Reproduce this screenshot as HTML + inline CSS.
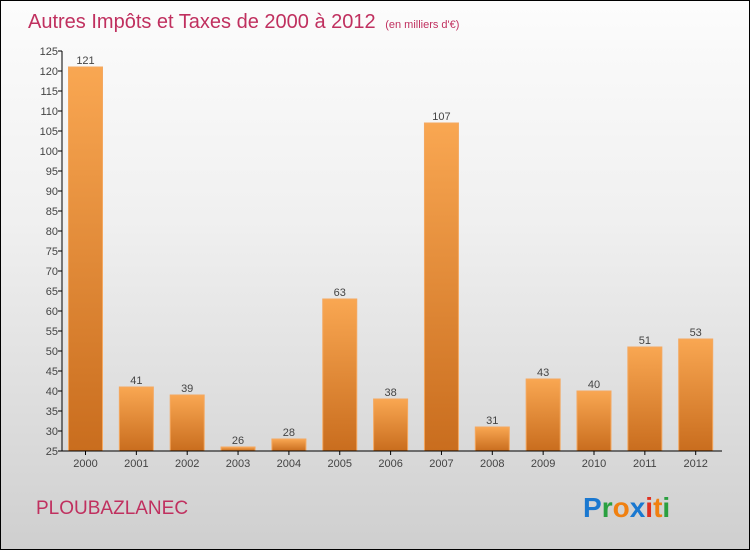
<!DOCTYPE html>
<html><head><meta charset="utf-8"><style>
body{margin:0}
#c{width:748px;height:548px;border:1px solid #000;background:linear-gradient(#fcfcfc,#f0f0f0 40%,#cfcfcf);position:relative;font-family:"Liberation Sans",sans-serif}
</style></head><body>
<div id="c">
<svg width="748" height="548" style="position:absolute;left:0;top:0" id="s">
<defs><linearGradient id="g" x1="0" y1="0" x2="0" y2="1"><stop offset="0" stop-color="#f9a752"/><stop offset="1" stop-color="#c96d1e"/></linearGradient></defs>
<text x="27" y="27" font-size="20" fill="#c0305f">Autres Impôts et Taxes de 2000 à 2012 <tspan font-size="11" dx="4">(en milliers d'€)</tspan></text>
<text x="35" y="513" font-size="19" fill="#c0305f">PLOUBAZLANEC</text>
<text x="582" y="516" font-size="28" font-weight="bold"><tspan fill="#1a78d0">P</tspan><tspan fill="#2aa040">r</tspan><tspan fill="#f08010">o</tspan><tspan fill="#1a78d0">x</tspan><tspan fill="#e03020">i</tspan><tspan fill="#f08010">t</tspan><tspan fill="#2aa040">i</tspan></text>
<g id="plot"></g>
</svg></div>
<script>
const categories=["2000","2001","2002","2003","2004","2005","2006","2007","2008","2009","2010","2011","2012"];
const values=[121,41,39,26,28,63,38,107,31,43,40,51,53];
const yTicks=[25,30,35,40,45,50,55,60,65,70,75,80,85,90,95,100,105,110,115,120,125];
const NS="http://www.w3.org/2000/svg";
const g=document.getElementById('plot');
const y=v=>450-(v-25)*4;
const x=i=>84.5+i*50.85;
function mk(t,a,txt){const e=document.createElementNS(NS,t);for(const k in a)e.setAttribute(k,a[k]);if(txt!==undefined)e.textContent=txt;g.appendChild(e);return e;}
yTicks.forEach(v=>{
 const l=mk('line',{x1:57,x2:61,y1:y(v),y2:y(v),stroke:'#000'});
 
 
 const t=mk('text',{x:57,y:y(v)+4,'font-size':11,'text-anchor':'end',fill:'#444'},v);
 
 
});
categories.forEach((c,i)=>{
 const v=values[i];
 const r=mk('rect',{x:x(i)-17,y:y(v),width:34,height:450-y(v),fill:'url(#g)',stroke:'#f4a860','stroke-width':1});
 
 
 const t=mk('text',{x:x(i),y:y(v)-3,'font-size':11,'text-anchor':'middle',fill:'#444'},v);
 
 
 const xl=mk('text',{x:x(i),y:466,'font-size':11,'text-anchor':'middle',fill:'#444'},c);
 
 
 const tk=mk('line',{x1:x(i),x2:x(i),y1:450,y2:454,stroke:'#000'});
 
 
});
const ya=mk('line',{x1:61,x2:61,y1:50,y2:450,stroke:'#000'});


const xa=mk('line',{x1:61,x2:721,y1:450,y2:450,stroke:'#000'});


</script>
</body></html>
